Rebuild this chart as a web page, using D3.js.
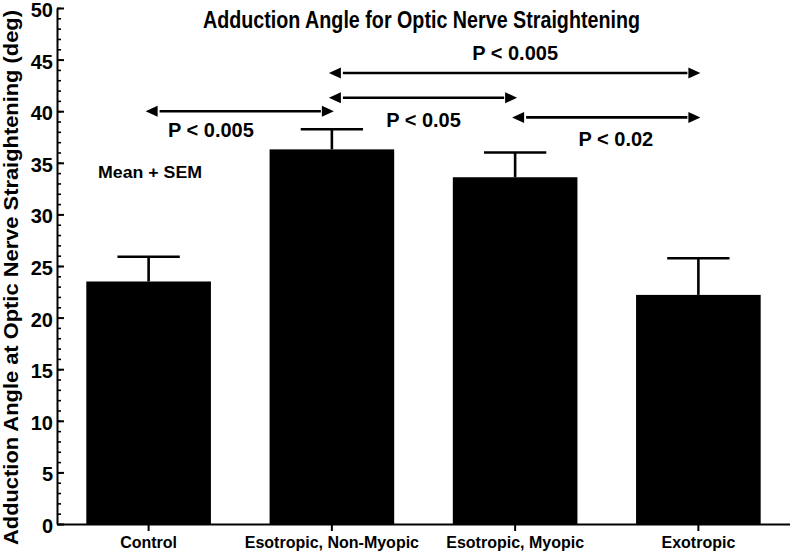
<!DOCTYPE html>
<html>
<head>
<meta charset="utf-8">
<script src="https://cdn.jsdelivr.net/npm/d3@7"></script>
<style>
  body { margin: 0; background: #fff; }
  text { font-family: "Liberation Sans", Arial, sans-serif; font-weight: bold; fill: #000; }
</style>
</head>
<body>
<div id="chart"></div>
<script>
// Chart values
const categories = ["Control", "Esotropic, Non-Myopic", "Esotropic, Myopic", "Exotropic"];
const means = [23.5, 36.3, 33.6, 22.2];
const sems = [2.4, 1.95, 2.4, 3.55];
const yTicks = [0, 5, 10, 15, 20, 25, 30, 35, 40, 45, 50];

// Significance comparisons (category indices, y in degrees)
const compFrom = [1, 1, 0, 2];
const compTo = [3, 2, 1, 3];
const compY = [43.7, 41.3, 40.0, 39.4];
const compLabels = ["P < 0.005", "P < 0.05", "P < 0.005", "P < 0.02"];
// label anchor in data units (category index, degrees)
const compLabelX = [2.0, 1.5, 0.34, 2.55];
const compLabelY = [44.96, 38.47, 37.5, 36.6];

const width = 790;
const height = 552;
const margin = ({top: 8, right: 0, bottom: 28, left: 57});

const svg = d3.select("#chart").append("svg")
  .attr("width", width)
  .attr("height", height);

const x = d3.scaleBand()
  .domain(categories)
  .range([margin.left, width - margin.right])
  .paddingInner(0.32)
  .paddingOuter(0.16);

const y = d3.scaleLinear()
  .domain([0, 50])
  .range([height - margin.bottom, margin.top]);

// category index -> centre of the bar
const xi = d3.scaleLinear()
  .domain([0, categories.length - 1])
  .range([x(categories[0]) + x.bandwidth() / 2, x(categories[categories.length - 1]) + x.bandwidth() / 2]);

/* bars */
const data = categories.map((c, i) => ({cat: c, mean: means[i], sem: sems[i]}));

svg.append("g")
  .selectAll("rect")
  .data(data)
  .join("rect")
    .attr("x", d => x(d.cat))
    .attr("width", x.bandwidth())
    .attr("y", d => y(d.mean))
    .attr("height", d => y(0) - y(d.mean))
    .attr("fill", "#000");

/* error bars (mean + SEM) */
const eb = svg.append("g").attr("stroke", "#000").attr("stroke-width", 2.6);
eb.selectAll("line.v")
  .data(data)
  .join("line")
    .attr("class", "v")
    .attr("x1", d => x(d.cat) + x.bandwidth() / 2)
    .attr("x2", d => x(d.cat) + x.bandwidth() / 2)
    .attr("y1", d => y(d.mean))
    .attr("y2", d => y(d.mean + d.sem));
eb.selectAll("line.cap")
  .data(data)
  .join("line")
    .attr("class", "cap")
    .attr("x1", d => x(d.cat) + x.bandwidth() / 4)
    .attr("x2", d => x(d.cat) + x.bandwidth() * 3 / 4)
    .attr("y1", d => y(d.mean + d.sem))
    .attr("y2", d => y(d.mean + d.sem));

/* axes */
const yMinor = d3.range(0, 51, 1);
svg.append("g")
  .attr("transform", `translate(${margin.left},0)`)
  .call(d3.axisLeft(y).tickValues(yMinor).tickSize(-4).tickFormat(""))
  .call(g => g.select(".domain").remove())
  .call(g => g.selectAll(".tick line").attr("stroke", "#000").attr("stroke-width", 1.6));

svg.append("g")
  .attr("transform", `translate(${margin.left},0)`)
  .call(d3.axisLeft(y).tickValues(yTicks).tickSize(-7).tickSizeOuter(0).tickPadding(4))
  .call(g => g.select(".domain").attr("stroke", "#000").attr("stroke-width", 2))
  .call(g => g.selectAll(".tick line").attr("stroke", "#000").attr("stroke-width", 2))
  .call(g => g.selectAll(".tick text").attr("font-size", 20).attr("dy", "0.42em"));

svg.append("g")
  .attr("transform", `translate(0,${y(0)})`)
  .call(d3.axisBottom(x).tickSize(7).tickSizeOuter(0).tickPadding(6))
  .call(g => g.select(".domain").attr("stroke", "#000").attr("stroke-width", 2))
  .call(g => g.selectAll(".tick line").attr("stroke", "#000").attr("stroke-width", 2))
  .call(g => g.selectAll(".tick text").attr("font-size", 16));

/* titles */
svg.append("text")
  .attr("x", 421.5)
  .attr("y", 28)
  .attr("text-anchor", "middle")
  .attr("font-size", 24)
  .attr("textLength", 437)
  .attr("lengthAdjust", "spacingAndGlyphs")
  .text("Adduction Angle for Optic Nerve Straightening");

svg.append("text")
  .attr("transform", "translate(18,277.5) rotate(-90)")
  .attr("text-anchor", "middle")
  .attr("font-size", 21)
  .attr("textLength", 535)
  .attr("lengthAdjust", "spacingAndGlyphs")
  .text("Adduction Angle at Optic Nerve Straightening (deg)");

svg.append("text")
  .attr("x", 98)
  .attr("y", 178)
  .attr("font-size", 16.5)
  .attr("textLength", 104)
  .attr("lengthAdjust", "spacingAndGlyphs")
  .text("Mean + SEM");

/* significance arrows */
const comps = compFrom.map((f, i) => ({
  x1: xi(f), x2: xi(compTo[i]), y: y(compY[i]),
  label: compLabels[i], lx: xi(compLabelX[i]), ly: y(compLabelY[i])
}));

const ah = 12, aw = 5.5;
const ag = svg.append("g");
ag.selectAll("line")
  .data(comps)
  .join("line")
    .attr("x1", d => d.x1 + ah - 1)
    .attr("x2", d => d.x2 - ah + 1)
    .attr("y1", d => d.y)
    .attr("y2", d => d.y)
    .attr("stroke", "#000")
    .attr("stroke-width", 2.6);
ag.selectAll("path.l")
  .data(comps)
  .join("path")
    .attr("class", "l")
    .attr("d", d => `M${d.x1 - 3},${d.y}L${d.x1 + ah - 3},${d.y - aw}L${d.x1 + ah - 3},${d.y + aw}Z`)
    .attr("fill", "#000");
ag.selectAll("path.r")
  .data(comps)
  .join("path")
    .attr("class", "r")
    .attr("d", d => `M${d.x2 + 2},${d.y}L${d.x2 - ah + 2},${d.y - aw}L${d.x2 - ah + 2},${d.y + aw}Z`)
    .attr("fill", "#000");
ag.selectAll("text")
  .data(comps)
  .join("text")
    .attr("x", d => d.lx)
    .attr("y", d => d.ly)
    .attr("text-anchor", "middle")
    .attr("font-size", 20)
    .text(d => d.label);
</script>
</body>
</html>
